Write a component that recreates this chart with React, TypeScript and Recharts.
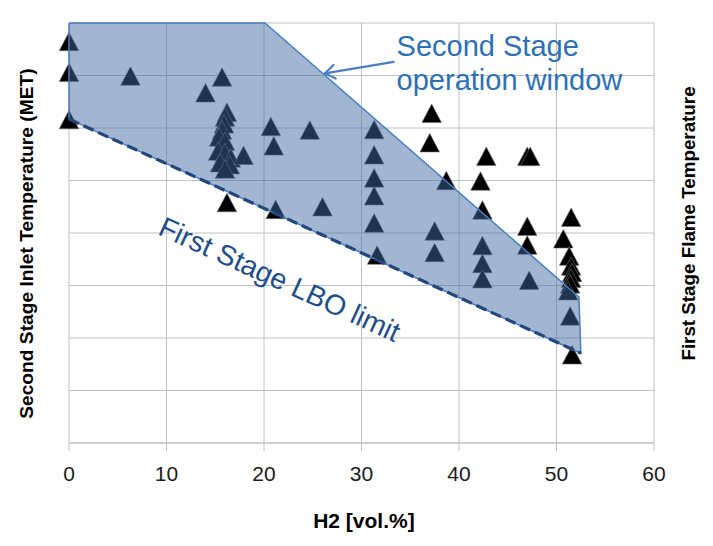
import {
  ScatterChart,
  Scatter,
  XAxis,
  YAxis,
  CartesianGrid,
  ReferenceLine,
  ReferenceDot,
} from 'recharts';

// measured points, H2 content vs second stage inlet temperature (grid units)
const h2 = [
  0, 0, 0, 6.3, 14.0, 15.7,
  16.2, 16.0, 15.9, 15.7, 15.4, 16.0, 15.3, 16.0, 16.6, 15.5, 16.5, 16.0,
  17.9, 16.2, 20.7, 21.0, 21.2, 24.7, 26.0,
  31.3, 31.3, 31.3, 31.3, 31.3, 31.6,
  37.2, 37.0, 38.7, 37.5, 37.5,
  42.8, 42.2, 42.4, 42.4, 42.4, 42.4,
  47.0, 47.3, 47.0, 47.0, 47.2,
  51.5, 50.7, 51.3, 51.5, 51.6, 51.5, 51.4, 51.2, 51.4, 51.6,
];
const inletTemp = [
  7.65, 7.06, 6.16, 6.99, 6.67, 6.97,
  6.3, 6.21, 6.08, 5.96, 5.83, 5.75, 5.56, 5.53, 5.43, 5.34, 5.3, 5.22,
  5.48, 4.58, 6.03, 5.66, 4.45, 5.96, 4.5,
  5.97, 5.49, 5.05, 4.71, 4.19, 3.58,
  6.28, 5.72, 5.0, 4.04, 3.63,
  5.46, 4.99, 4.44, 3.76, 3.42, 3.13,
  5.46, 5.46, 4.13, 3.77, 3.1,
  4.3, 3.89, 3.56, 3.37, 3.25, 3.14, 3.03, 2.9, 2.42, 1.68,
];

// second stage operation window outline
const windowH2 = [0, 20.1, 52.3, 52.5, 0, 0];
const windowTemp = [8, 8, 2.78, 1.71, 6.17, 8];

// first stage LBO limit
const lboH2 = [0, 52.5];
const lboTemp = [6.17, 1.71];

// arrow from the window caption to the window edge
const arrowH2 = [33.3, 26.25];
const arrowTemp = [7.26, 7.04];

const xTicks = [0, 10, 20, 30, 40, 50, 60];
const yTicks = [0, 1, 2, 3, 4, 5, 6, 7, 8];

const points = h2.map((x, i) => ({ x, y: inletTemp[i] }));
const windowData = windowH2.map((x, i) => ({ x, y: windowTemp[i] }));
const lboData = lboH2.map((x, i) => ({ x, y: lboTemp[i] }));

const FONT = 'Liberation Sans, Arial, sans-serif';

const Triangle = (props: any) => {
  const { cx, cy } = props;
  const w = 19.5;
  const h = 18.5;
  return (
    <polygon
      points={`${cx},${cy - h / 2} ${cx + w / 2},${cy + h / 2} ${cx - w / 2},${cy + h / 2}`}
      fill="#000"
      stroke="#6f6f6f"
      strokeWidth={0.6}
    />
  );
};

const Arrow = (props: any) => {
  const { x1, y1, x2, y2 } = props;
  const a = Math.atan2(y2 - y1, x2 - x1);
  const len = 12;
  const spread = (35 * Math.PI) / 180;
  const ax = x2 - len * Math.cos(a - spread);
  const ay = y2 - len * Math.sin(a - spread);
  const bx = x2 - len * Math.cos(a + spread);
  const by = y2 - len * Math.sin(a + spread);
  return (
    <g stroke="#4A7EC0" strokeWidth={2.2} fill="none" strokeLinecap="round">
      <line x1={x1} y1={y1} x2={x2} y2={y2} />
      <polyline points={`${ax},${ay} ${x2},${y2} ${bx},${by}`} />
    </g>
  );
};

const NoTick = () => <g />;

const centerOf = (vb: any) => ({ x: vb.x + vb.width / 2, y: vb.y + vb.height / 2 });

export default function App() {
  return (
    <div style={{ position: 'absolute', left: 0, top: 0, width: 713, height: 546, background: '#fff' }}>
      <ScatterChart width={713} height={546} margin={{ top: 23, right: 0, bottom: 0, left: 0 }}>
        <CartesianGrid stroke="#c0c0c0" strokeWidth={1} />
        <XAxis
          type="number"
          dataKey="x"
          domain={[0, 60]}
          ticks={xTicks}
          height={103}
          axisLine={{ stroke: '#c0c0c0' }}
          tickLine={{ stroke: '#c0c0c0' }}
          tickSize={8}
          tickMargin={15}
          tick={{ fill: '#1a1a1a', fontSize: 21, fontFamily: FONT }}
          label={(p: any) => {
            const vb = p.viewBox;
            return (
              <text
                x={vb.x + vb.width / 2 + 2.4}
                y={vb.y + vb.height - 18}
                textAnchor="middle"
                fontFamily={FONT}
                fontWeight="bold"
                fontSize={21}
                fill="#000"
              >
                H2 [vol.%]
              </text>
            );
          }}
        />
        <YAxis
          type="number"
          dataKey="y"
          domain={[0, 8]}
          ticks={yTicks}
          interval={0}
          width={69}
          tick={NoTick}
          axisLine={false}
          tickLine={false}
          label={(p: any) => {
            const vb = p.viewBox;
            const x = vb.x + 33;
            const y = vb.y + vb.height / 2 + 10.6;
            return (
              <text
                x={x}
                y={y}
                transform={`rotate(-90 ${x} ${y})`}
                textAnchor="middle"
                fontFamily={FONT}
                fontWeight="bold"
                fontSize={19.2}
                fill="#000"
              >
                Second Stage Inlet Temperature (MET)
              </text>
            );
          }}
        />
        <YAxis
          yAxisId="r"
          orientation="right"
          type="number"
          domain={[0, 8]}
          width={59}
          tick={false}
          axisLine={false}
          tickLine={false}
          label={(p: any) => {
            const vb = p.viewBox;
            const x = vb.x + 41;
            const y = vb.y + vb.height / 2 - 9.5;
            return (
              <text
                x={x}
                y={y}
                transform={`rotate(-90 ${x} ${y})`}
                textAnchor="middle"
                fontFamily={FONT}
                fontWeight="bold"
                fontSize={18.8}
                fill="#000"
              >
                First Stage Flame Temperature
              </text>
            );
          }}
        />
        <Scatter data={points} shape={Triangle} isAnimationActive={false} />
        <Scatter
          data={windowData}
          shape={() => <g />}
          line={{ fill: 'rgb(66,106,162)', fillOpacity: 0.49, stroke: '#4A7EC0', strokeWidth: 1.5 }}
          lineType="joint"
          isAnimationActive={false}
        />
        <Scatter
          data={lboData}
          shape={() => <g />}
          line={{ fill: 'none', stroke: '#22477B', strokeWidth: 3.2, strokeDasharray: '11 5' }}
          lineType="joint"
          isAnimationActive={false}
        />
        <ReferenceLine
          segment={[
            { x: arrowH2[0], y: arrowTemp[0] },
            { x: arrowH2[1], y: arrowTemp[1] },
          ]}
          shape={Arrow}
        />
        <ReferenceDot
          x={33.6}
          y={7.37}
          r={1}
          fill="none"
          stroke="none"
          label={(p: any) => {
            const c = centerOf(p.viewBox);
            return (
              <text x={c.x} y={c.y} fontFamily={FONT} fontSize={29} fill="#2E70B5">
                <tspan x={c.x}>Second Stage</tspan>
                <tspan x={c.x} dy={34.3}>operation window</tspan>
              </text>
            );
          }}
        />
        <ReferenceDot
          x={9.0}
          y={3.98}
          r={1}
          fill="none"
          stroke="none"
          label={(p: any) => {
            const c = centerOf(p.viewBox);
            return (
              <text
                x={c.x}
                y={c.y}
                transform={`rotate(24.5 ${c.x} ${c.y})`}
                fontFamily={FONT}
                fontSize={28.5}
                fill="#1F4F8B"
              >
                First Stage LBO limit
              </text>
            );
          }}
        />
      </ScatterChart>
    </div>
  );
}
